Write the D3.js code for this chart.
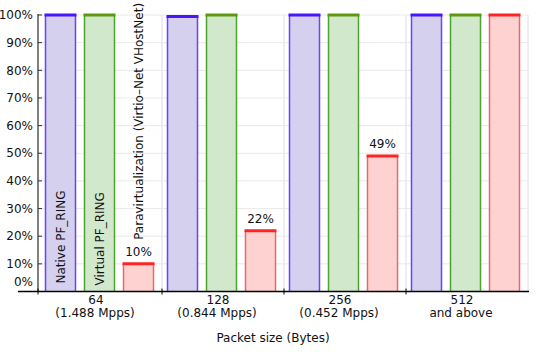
<!DOCTYPE html>
<html>
<head>
<meta charset="utf-8">
<script src="https://cdn.jsdelivr.net/npm/d3@7"></script>
<style>
  body { margin: 0; background: #fff; }
  text { font-family: "DejaVu Sans", sans-serif; fill: #111; }
</style>
</head>
<body>
<div class="chart"></div>
<script>
// data
const groups = ["64", "128", "256", "512"];
const groupSub = ["(1.488 Mpps)", "(0.844 Mpps)", "(0.452 Mpps)", "and above"];
const seriesNames = ["Native PF_RING", "Virtual PF_RING", "Paravirtualization (Virtio\u2013Net VHostNet)"];
const nativeVals = [100, 99.5, 100, 100];
const virtualVals = [100, 100, 100, 100];
const paraVals = [10, 22, 49, 100];
const paraLabels = ["10%", "22%", "49%", ""];
const yTicks = [0, 10, 20, 30, 40, 50, 60, 70, 80, 90, 100];

const width = 539, height = 352;
const fs = "12px";

const svg = d3.select(".chart")
  .append("svg")
  .attr("width", width)
  .attr("height", height);

// scales
const x0 = d3.scaleBand().domain(groups).range([40, 528]);
const x1 = d3.scaleBand().domain(seriesNames).range([5, 114]).paddingInner(8 / 39).paddingOuter(0);
const y = d3.scaleLinear().domain([0, 100]).range([291.5, 15]);

const colors = {
  fill: ["#d5d0ee", "#d1e8cc", "#ffd2d2"],
  side: ["#6a42ff", "#4ea22e", "#f06464"],
  top: ["#4a14ff", "#5c9a0c", "#ff2424"]
};

// gridlines
svg.append("g")
  .selectAll("line")
  .data(yTicks.filter(d => d > 0))
  .enter()
  .append("line")
  .attr("x1", 38).attr("x2", 528)
  .attr("y1", d => y(d)).attr("y2", d => y(d))
  .attr("stroke", "#e9e9e9")
  .attr("stroke-width", 1);

svg.append("g")
  .selectAll("line")
  .data(groups.slice(1).map(g => x0(g)).concat([528]))
  .enter()
  .append("line")
  .attr("x1", d => d).attr("x2", d => d)
  .attr("y1", y(100)).attr("y2", y(0))
  .attr("stroke", "#e9e9e9")
  .attr("stroke-width", 1.5);

// bars
const rows = [];
groups.forEach(function (g, i) {
  [nativeVals, virtualVals, paraVals].forEach(function (vals, s) {
    rows.push({ group: g, s: s, name: seriesNames[s], value: vals[i] });
  });
});

const bars = svg.selectAll(".bar")
  .data(rows)
  .enter()
  .append("g")
  .attr("class", "bar")
  .attr("transform", d => "translate(" + (x0(d.group) + x1(d.name)) + ",0)");

const bw = x1.bandwidth();

bars.append("rect")
  .attr("x", 0)
  .attr("y", d => y(d.value))
  .attr("width", bw)
  .attr("height", d => y(0) - y(d.value))
  .attr("fill", d => colors.fill[d.s]);

bars.append("line")
  .attr("x1", 0.5).attr("x2", 0.5)
  .attr("y1", d => y(d.value)).attr("y2", y(0))
  .attr("stroke", d => colors.side[d.s])
  .attr("stroke-width", 1.5);

bars.append("line")
  .attr("x1", bw - 0.5).attr("x2", bw - 0.5)
  .attr("y1", d => y(d.value)).attr("y2", y(0))
  .attr("stroke", d => colors.side[d.s])
  .attr("stroke-width", 1.5);

bars.append("line")
  .attr("x1", -0.5).attr("x2", bw + 0.5)
  .attr("y1", d => y(d.value)).attr("y2", d => y(d.value))
  .attr("stroke", d => colors.top[d.s])
  .attr("stroke-width", 3);

// value labels above the paravirtualization bars
svg.selectAll(".vlabel")
  .data(groups)
  .enter()
  .append("text")
  .attr("class", "vlabel")
  .attr("x", (g, i) => x0(g) + x1(seriesNames[2]) + bw / 2)
  .attr("y", (g, i) => y(paraVals[i]) - 8)
  .attr("text-anchor", "middle")
  .style("font-size", fs)
  .text((g, i) => paraLabels[i]);

// series names, rotated, in the first group
const nameBottom = [y(0) - 8, y(0) - 6, y(paraVals[0]) - 24];
svg.selectAll(".sname")
  .data(seriesNames)
  .enter()
  .append("text")
  .attr("class", "sname")
  .attr("transform", (d, i) => "translate(" + (x0(groups[0]) + x1(d) + bw / 2 + 4) + "," + nameBottom[i] + ") rotate(-90)")
  .style("font-size", fs)
  .text(d => d);

// y axis
const yAxis = svg.append("g");
yAxis.append("line")
  .attr("x1", 38).attr("x2", 38)
  .attr("y1", y(100) - 1).attr("y2", y(0))
  .attr("stroke", "#000");

yAxis.selectAll(".ytick")
  .data(yTicks.filter(d => d > 0))
  .enter()
  .append("line")
  .attr("x1", 38).attr("x2", 42)
  .attr("y1", d => y(d)).attr("y2", d => y(d))
  .attr("stroke", "#333");

yAxis.selectAll(".ylabel")
  .data(yTicks)
  .enter()
  .append("text")
  .attr("x", 33)
  .attr("y", d => d === 0 ? y(0) - 10 : y(d))
  .attr("dy", "0.35em")
  .attr("text-anchor", "end")
  .style("font-size", fs)
  .text(d => d + "%");

// x axis
const xAxis = svg.append("g");
xAxis.append("line")
  .attr("x1", 18).attr("x2", 529)
  .attr("y1", y(0)).attr("y2", y(0))
  .attr("stroke", "#000")
  .attr("stroke-width", 1.5);

xAxis.selectAll(".xtick")
  .data([38].concat(groups.slice(1).map(g => x0(g))))
  .enter()
  .append("line")
  .attr("x1", d => d).attr("x2", d => d)
  .attr("y1", y(0) - 3).attr("y2", y(0) + 3)
  .attr("stroke", "#000");

xAxis.selectAll(".xlabel")
  .data(groups)
  .enter()
  .append("text")
  .attr("x", g => x0(g) + x0.bandwidth() / 2 - 5)
  .attr("y", y(0) + 12)
  .attr("text-anchor", "middle")
  .style("font-size", fs)
  .text(g => g);

xAxis.selectAll(".xsub")
  .data(groupSub)
  .enter()
  .append("text")
  .attr("x", (d, i) => x0(groups[i]) + x0.bandwidth() / 2 - 6)
  .attr("y", y(0) + 25)
  .attr("text-anchor", "middle")
  .style("font-size", fs)
  .text(d => d);

svg.append("text")
  .attr("x", 273)
  .attr("y", 342)
  .attr("text-anchor", "middle")
  .style("font-size", fs)
  .text("Packet size (Bytes)");
</script>
</body>
</html>
